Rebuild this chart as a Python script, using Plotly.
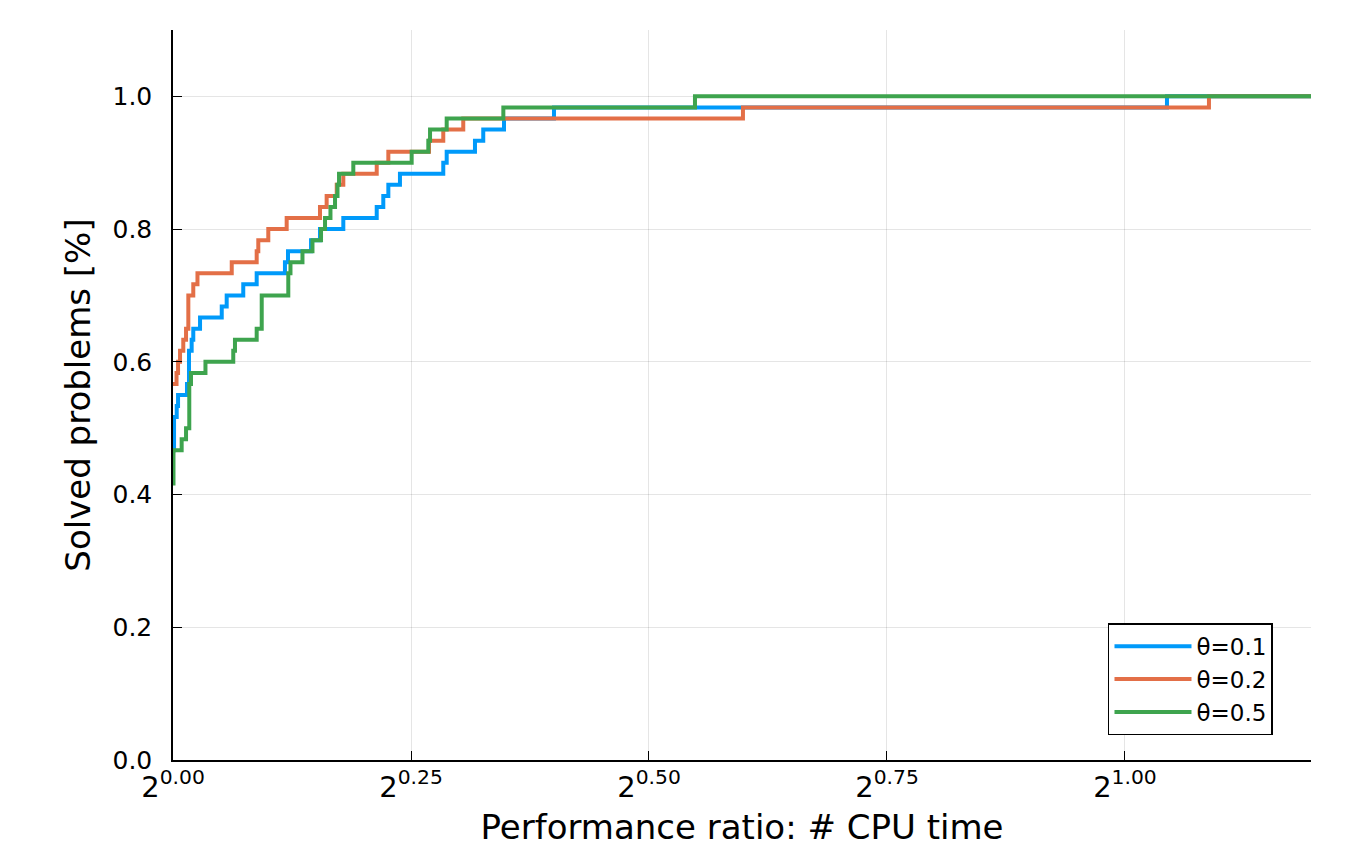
import plotly.graph_objects as go

# log2(performance ratio) where each step begins, and fraction of solved problems
x_theta01 = [0, 0.0011, 0.0039, 0.0053, 0.0147, 0.0168, 0.0196, 0.0213, 0.0284, 0.0512,
             0.0564, 0.0738, 0.0879, 0.1176, 0.1208, 0.1450, 0.1544, 0.1789, 0.2140, 0.2209,
             0.2262, 0.2384, 0.2839, 0.2875, 0.3172, 0.3259, 0.3477, 0.4002, 1.0441, 1.1954]
y_theta01 = [0.4667, 0.5167, 0.5333, 0.55, 0.5667, 0.6167, 0.6333, 0.65, 0.6667, 0.6833,
             0.7, 0.7167, 0.7333, 0.75, 0.7667, 0.7833, 0.8, 0.8167, 0.8333, 0.85,
             0.8667, 0.8833, 0.9, 0.9167, 0.9333, 0.95, 0.9667, 0.9833, 1.0, 1.0]

x_theta02 = [0, 0.0037, 0.0053, 0.0074, 0.0108, 0.0137, 0.0161, 0.0213, 0.0257, 0.0617,
             0.0879, 0.0896, 0.1001, 0.1194, 0.1544, 0.1614, 0.1720, 0.1789, 0.2140, 0.2262,
             0.2689, 0.2839, 0.3049, 0.5987, 1.0882, 1.1954]
y_theta02 = [0.5667, 0.5833, 0.6, 0.6167, 0.6333, 0.65, 0.7, 0.7167, 0.7333, 0.75,
             0.7667, 0.7833, 0.8, 0.8167, 0.8333, 0.85, 0.8667, 0.8833, 0.9, 0.9167,
             0.9333, 0.95, 0.9667, 0.9833, 1.0, 1.0]

x_theta05 = [0, 0.0005, 0.0091, 0.0137, 0.0171, 0.0189, 0.0341, 0.0633, 0.0651, 0.0879,
             0.0932, 0.1211, 0.1234, 0.1360, 0.1465, 0.1555, 0.1597, 0.1654, 0.1702, 0.1728,
             0.1744, 0.1894, 0.2507, 0.2682, 0.2700, 0.2875, 0.3470, 0.5483, 1.1954]
y_theta05 = [0.4167, 0.4667, 0.4833, 0.5, 0.5667, 0.5833, 0.6, 0.6167, 0.6333, 0.65,
             0.7, 0.7333, 0.75, 0.7667, 0.7833, 0.8, 0.8167, 0.8333, 0.85, 0.8667,
             0.8833, 0.9, 0.9167, 0.9333, 0.95, 0.9667, 0.9833, 1.0, 1.0]

series_names = ["θ=0.1", "θ=0.2", "θ=0.5"]
series_colors = ["#009AFA", "#E36F47", "#3EA44E"]

x_tickvals = [0, 0.25, 0.5, 0.75, 1.0]
x_ticktext = ["2<sup>0.00</sup>", "2<sup>0.25</sup>", "2<sup>0.50</sup>", "2<sup>0.75</sup>", "2<sup>1.00</sup>"]
y_tickvals = [0.0, 0.2, 0.4, 0.6, 0.8, 1.0]
y_ticktext = ["0.0", "0.2", "0.4", "0.6", "0.8", "1.0"]

FONT = "DejaVu Sans"

fig = go.Figure()
for xs, ys, name, color in zip([x_theta01, x_theta02, x_theta05],
                               [y_theta01, y_theta02, y_theta05],
                               series_names, series_colors):
    fig.add_trace(go.Scatter(x=xs, y=ys, mode="lines", name=name,
                             line=dict(color=color, width=4, shape="hv")))

axis_common = dict(
    showline=True, linecolor="black", linewidth=1.5,
    ticks="inside", ticklen=9, tickwidth=1.2, tickcolor="black",
    showgrid=True, gridcolor="rgba(0,0,0,0.1)", gridwidth=1,
    zeroline=False, mirror=False, automargin=False,
)

fig.update_layout(
    width=1330, height=839,
    margin=dict(l=165, r=27, t=22, b=87),
    paper_bgcolor="white", plot_bgcolor="white",
    font=dict(family=FONT, color="black"),
    xaxis=dict(range=[0, 1.1954], tickvals=x_tickvals, ticktext=x_ticktext,
               tickfont=dict(size=29, family=FONT),
               title=dict(text="Performance ratio: # CPU time", font=dict(size=34, family=FONT), standoff=17),
               **axis_common),
    yaxis=dict(range=[0, 1.1], tickvals=y_tickvals, ticktext=y_ticktext,
               tickfont=dict(size=25, family=FONT), ticklabelstandoff=14,
               title=dict(text="Solved problems [%]", font=dict(size=34, family=FONT), standoff=12),
               **axis_common),
    legend=dict(x=0.9666, y=0.034, xanchor="right", yanchor="bottom",
                bordercolor="black", borderwidth=1.5, bgcolor="white",
                font=dict(size=23, family=FONT), tracegroupgap=0, itemwidth=77),
    showlegend=True,
)

fig.write_html("out.html")
